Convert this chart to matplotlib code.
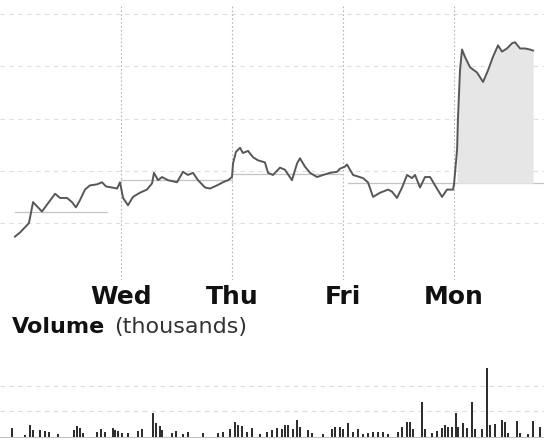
import numpy as np
import matplotlib
matplotlib.use("Agg")
from matplotlib import pyplot as plt

# intraday price, hours counted from Tuesday's open (6.5 h per session)
hours = [0.29, 0.59, 0.88, 1.11, 1.23, 1.35, 1.58, 1.87, 2.23, 2.64, 2.93, 3.34,
         3.63, 3.86, 4.10, 4.39, 4.68, 5.09, 5.39, 5.62, 5.97, 6.27, 6.44,
         6.62, 6.91, 7.20, 7.61, 8.02, 8.32, 8.43, 8.67, 8.90, 9.25, 9.78, 10.13,
         10.42, 10.72, 11.01, 11.42, 11.71, 12.12, 12.47, 12.77, 13.00,
         13.06, 13.23, 13.47, 13.64, 13.94, 14.23, 14.52, 14.93, 15.11, 15.40,
         15.81, 16.10, 16.51, 16.81, 16.98, 17.27, 17.57, 17.98, 18.33, 18.74,
         19.15, 19.32,
         19.62, 19.73, 20.09, 20.67, 20.96, 21.26, 21.67, 22.14, 22.37, 22.66,
         22.96, 23.25, 23.54, 23.72, 24.01, 24.30, 24.60, 25.00, 25.30, 25.59,
         25.94, 26.00]
price = [9.87, 9.91, 9.96, 10.00, 10.10, 10.20, 10.16, 10.11, 10.19, 10.28, 10.24, 10.24,
         10.20, 10.15, 10.22, 10.32, 10.36, 10.37, 10.39, 10.35, 10.34, 10.33, 10.39,
         10.24, 10.17, 10.25, 10.29, 10.32, 10.38, 10.48, 10.41, 10.44, 10.41, 10.39, 10.49,
         10.46, 10.48, 10.41, 10.34, 10.33, 10.36, 10.39, 10.41, 10.44,
         10.57, 10.68, 10.72, 10.67, 10.69, 10.63, 10.60, 10.58, 10.48, 10.46,
         10.53, 10.51, 10.41, 10.57, 10.62, 10.54, 10.48, 10.44, 10.46, 10.48,
         10.49, 10.52,
         10.54, 10.56, 10.46, 10.43, 10.39, 10.25, 10.29, 10.32, 10.30, 10.24,
         10.34, 10.46, 10.43, 10.46, 10.34, 10.44, 10.44, 10.33, 10.25, 10.32,
         10.32, 10.37]

# Monday session
mon_hours = [26.00, 26.18, 26.23, 26.35, 26.47, 26.64, 26.94, 27.35, 27.70, 27.99,
             28.28, 28.58, 28.81, 29.10, 29.40, 29.57, 29.87, 30.16, 30.45, 30.63]
mon_price = [10.37, 10.70, 10.99, 11.46, 11.66, 11.59, 11.49, 11.44, 11.35, 11.46,
             11.59, 11.70, 11.64, 11.67, 11.72, 11.73, 11.67, 11.67, 11.66, 11.65]

# previous close reference per session: (start, end, level)
prev_close = [(0.3, 5.7, 10.11), (6.5, 13.0, 10.41), (13.0, 19.5, 10.47),
              (19.8, 26.0, 10.38), (26.0, 31.3, 10.38)]

day_breaks = [6.5, 13.0, 19.5, 26.0]
day_names = ["Wed", "Thu", "Fri", "Mon"]
price_grid = [10.0, 10.5, 11.0, 11.5, 12.0]

# volume bars (thousands)
vol_hours = [0.12, 0.88, 1.17, 1.35, 1.76, 2.05, 2.28, 2.81, 3.75, 3.92, 4.10, 4.27,
             5.09, 5.33, 5.56, 6.03, 6.15, 6.32, 6.56, 6.91, 7.50, 7.73, 8.37, 8.55,
             8.78, 8.90, 9.49, 9.72, 10.13, 10.42, 11.30, 12.18, 12.47, 12.88, 13.18,
             13.35, 13.59, 13.88, 14.17, 14.64, 15.05, 15.34, 15.64, 15.93, 16.10,
             16.28, 16.57, 16.81, 16.98, 17.45, 17.68, 18.33, 18.86, 19.03, 19.32,
             19.50, 19.79, 20.09, 20.38, 20.67, 20.96, 21.26, 21.55, 21.84, 22.14,
             22.72, 22.96, 23.25, 23.42, 23.60, 24.13, 24.30, 24.71, 25.00, 25.30,
             25.47, 25.65, 25.88, 26.12, 26.23, 26.53, 26.76, 27.05, 27.23, 27.64,
             27.93, 28.11, 28.40, 28.81, 28.99, 29.16, 29.69, 29.87, 30.33, 30.63, 31.04]
volume = [35, 8, 47, 27, 27, 23, 20, 12, 27, 43, 35, 16,
          20, 31, 20, 35, 27, 23, 16, 16, 23, 31, 94, 55,
          43, 27, 16, 23, 12, 20, 16, 16, 20, 31, 59,
          47, 43, 20, 35, 12, 20, 27, 35, 31, 47,
          47, 31, 66, 39, 27, 16, 12, 31, 39, 39,
          31, 55, 20, 31, 12, 16, 20, 20, 20, 12,
          20, 39, 59, 59, 31, 137, 31, 16, 23, 35,
          47, 39, 39, 94, 39, 55, 35, 137, 31, 31,
          269, 47, 51, 66, 59, 16, 62, 16, 12, 62, 39]
vol_grid = [100, 200]

x_range = (-0.586, 31.27)

fig = plt.figure(figsize=(5.44, 4.43), dpi=100)

# ---- price panel ----
ax = fig.add_axes([0, 1 - 280 / 443, 1, 275 / 443])
for g in price_grid:
    ax.axhline(g, color="#dedede", lw=0.8, ls=(0, (4, 4)), zorder=1)
for b in day_breaks:
    ax.axvline(b, color="#b4b4b4", lw=0.8, ls=(0, (1.5, 2)), zorder=1)
for x0, x1, lvl in prev_close:
    ax.plot([x0, x1], [lvl, lvl], color="#c4c4c4", lw=0.9, zorder=2)

ax.fill_between(mon_hours[1:], mon_price[1:], 10.38, color="#e6e6e6", zorder=2, lw=0)
ax.plot(hours, price, color="#575757", lw=1.4, zorder=3)
ax.plot(mon_hours, mon_price, color="#575757", lw=1.4, zorder=3)

ax.set_xlim(*x_range)
ax.set_ylim(9.455, 12.086)
ax.axis("off")

# ---- volume panel ----
vax = fig.add_axes([0, 1 - 440 / 443, 1, 90 / 443])
for g in vol_grid:
    vax.axhline(g, color="#dcdcdc", lw=0.8, ls=(0, (4, 4)), zorder=1)
vax.axhline(0, color="#c4c4c4", lw=0.8, zorder=1)
vax.bar(vol_hours, volume, width=0.11, color="#2e2e2e", zorder=2)
vax.set_xlim(*x_range)
vax.set_ylim(-11.7, 339)
vax.axis("off")

# ---- text ----
for b, name in zip(day_breaks, day_names):
    xf = (b - x_range[0]) / (x_range[1] - x_range[0])
    fig.text(xf, 1 - 297 / 443, name, ha="center", va="center",
             fontsize=18, fontweight="bold", color="#111111")

fig.text(12 / 544, 1 - 333 / 443, "Volume", ha="left", va="baseline",
         fontsize=16, fontweight="bold", color="#111111")
fig.text(114 / 544, 1 - 333 / 443, "(thousands)", ha="left", va="baseline",
         fontsize=16, color="#333333")

fig.savefig("out.png", dpi=100, facecolor="white")
